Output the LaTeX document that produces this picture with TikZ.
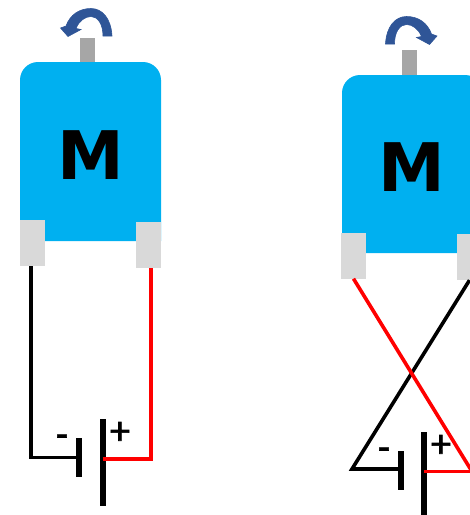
\documentclass[tikz,border=0pt]{standalone}
\usepackage{fontspec}
\setmainfont{Carlito}
\newfontfamily\heavyfont{DejaVu Sans}
\newfontfamily\signfont[FakeBold=1.6]{Carlito}
\definecolor{motorblue}{HTML}{00B0F0}
\definecolor{termgrey}{HTML}{D9D9D9}
\definecolor{shaftgrey}{HTML}{A6A6A6}
\definecolor{arrowblue}{HTML}{2F5597}
\definecolor{wirered}{HTML}{FF0000}
\tikzset{
  terminal/.style={rectangle,fill=termgrey,inner sep=0pt,minimum width=25pt,minimum height=46pt},
  shaft/.style={rectangle,fill=shaftgrey,inner sep=0pt,minimum width=15pt,minimum height=25pt},
  shortplate/.style={rectangle,fill=black,inner sep=0pt,minimum width=6pt,minimum height=39pt},
  longplate/.style={rectangle,fill=black,inner sep=0pt,minimum width=6pt,minimum height=87pt},
  motorbody/.style={fill=motorblue},
  wire/.style={line width=3.6pt,line join=miter},
  blackwire/.style={wire,draw=black},
  redwire/.style={wire,draw=wirered},
  spin/.style={fill=arrowblue,draw=arrowblue,line width=0.6pt},
  letter/.style={font=\fontsize{67pt}{67pt}\selectfont\heavyfont\bfseries,inner sep=0pt},
  sign/.style={font=\fontsize{40pt}{40pt}\selectfont\signfont,inner sep=0pt}
}
\begin{document}
\begin{tikzpicture}[x=1pt,y=-1pt]
\useasboundingbox (0,0) rectangle (470,515);
\clip (0,0) rectangle (470,515);
% left motor
\node[shaft] (ls) at (87.5,50) {};
\fill[motorbody] (20,241) -- (20,80) arc[start angle=180,end angle=90,radius=18pt] -- (143,62) arc[start angle=90,end angle=0,radius=18pt] -- (161,241) -- cycle;
\node[terminal] (ltl) at (32.5,243) {};
\node[terminal] (ltr) at (148.5,244.5) {};
\node[letter] (lm) at (90.5,155) {M};
\filldraw[spin] (112,36) .. controls (111,18) and (102,8.5) .. (91,8.5) .. controls (79,8.5) and (70,15) .. (66,26) -- (60.5,28) -- (68,36.5) -- (81,29.5) -- (76,28.5) .. controls (79,21) and (85,16.5) .. (91,16.5) .. controls (97,16.5) and (103,23) .. (103,36) -- cycle;
\node[shortplate] (lsp) at (79,457.5) {};
\node[longplate] (llp) at (102.7,462.5) {};
\node[sign] (lminus) at (62,441) {-};
\node[sign] (lplus) at (120,433) {+};
\draw[blackwire] ([xshift=-1.5pt]ltl.south) |- (lsp.center);
\draw[redwire] (llp.center |- 0,459) -| ([xshift=2.5pt]ltr.south);
% right motor
\node[shaft] (rs) at (409,62.5) {};
\fill[motorbody] (342,253) -- (342,93) arc[start angle=180,end angle=90,radius=18pt] -- (465,75) arc[start angle=90,end angle=0,radius=18pt] -- (483,253) -- cycle;
\node[terminal] (rtl) at (353.5,255.5) {};
\node[terminal] (rtr) at (469.5,257) {};
\node[letter] (rm) at (412,167.5) {M};
\begin{scope}[xshift=497.5pt,yshift=-8pt,xscale=-1]
\filldraw[spin] (112,36) .. controls (111,18) and (102,8.5) .. (91,8.5) .. controls (79,8.5) and (70,15) .. (66,26) -- (60.5,28) -- (68,36.5) -- (81,29.5) -- (76,28.5) .. controls (79,21) and (85,16.5) .. (91,16.5) .. controls (97,16.5) and (103,23) .. (103,36) -- cycle;
\end{scope}
\node[shortplate] (rsp) at (401,470) {};
\node[longplate] (rlp) at (424,475.5) {};
\node[sign] (rminus) at (384,454) {-};
\node[sign] (rplus) at (441,446) {+};
\coordinate (rapex) at (352,469);
\coordinate (rredend) at (472,471.5);
\draw[blackwire] (rtr.south) -- (rapex) -- (rsp.center |- rapex);
\draw[redwire] (rtl.south) -- (rredend);
\draw[redwire] (rlp.center |- rredend) -- (rredend);
\end{tikzpicture}
\end{document}
